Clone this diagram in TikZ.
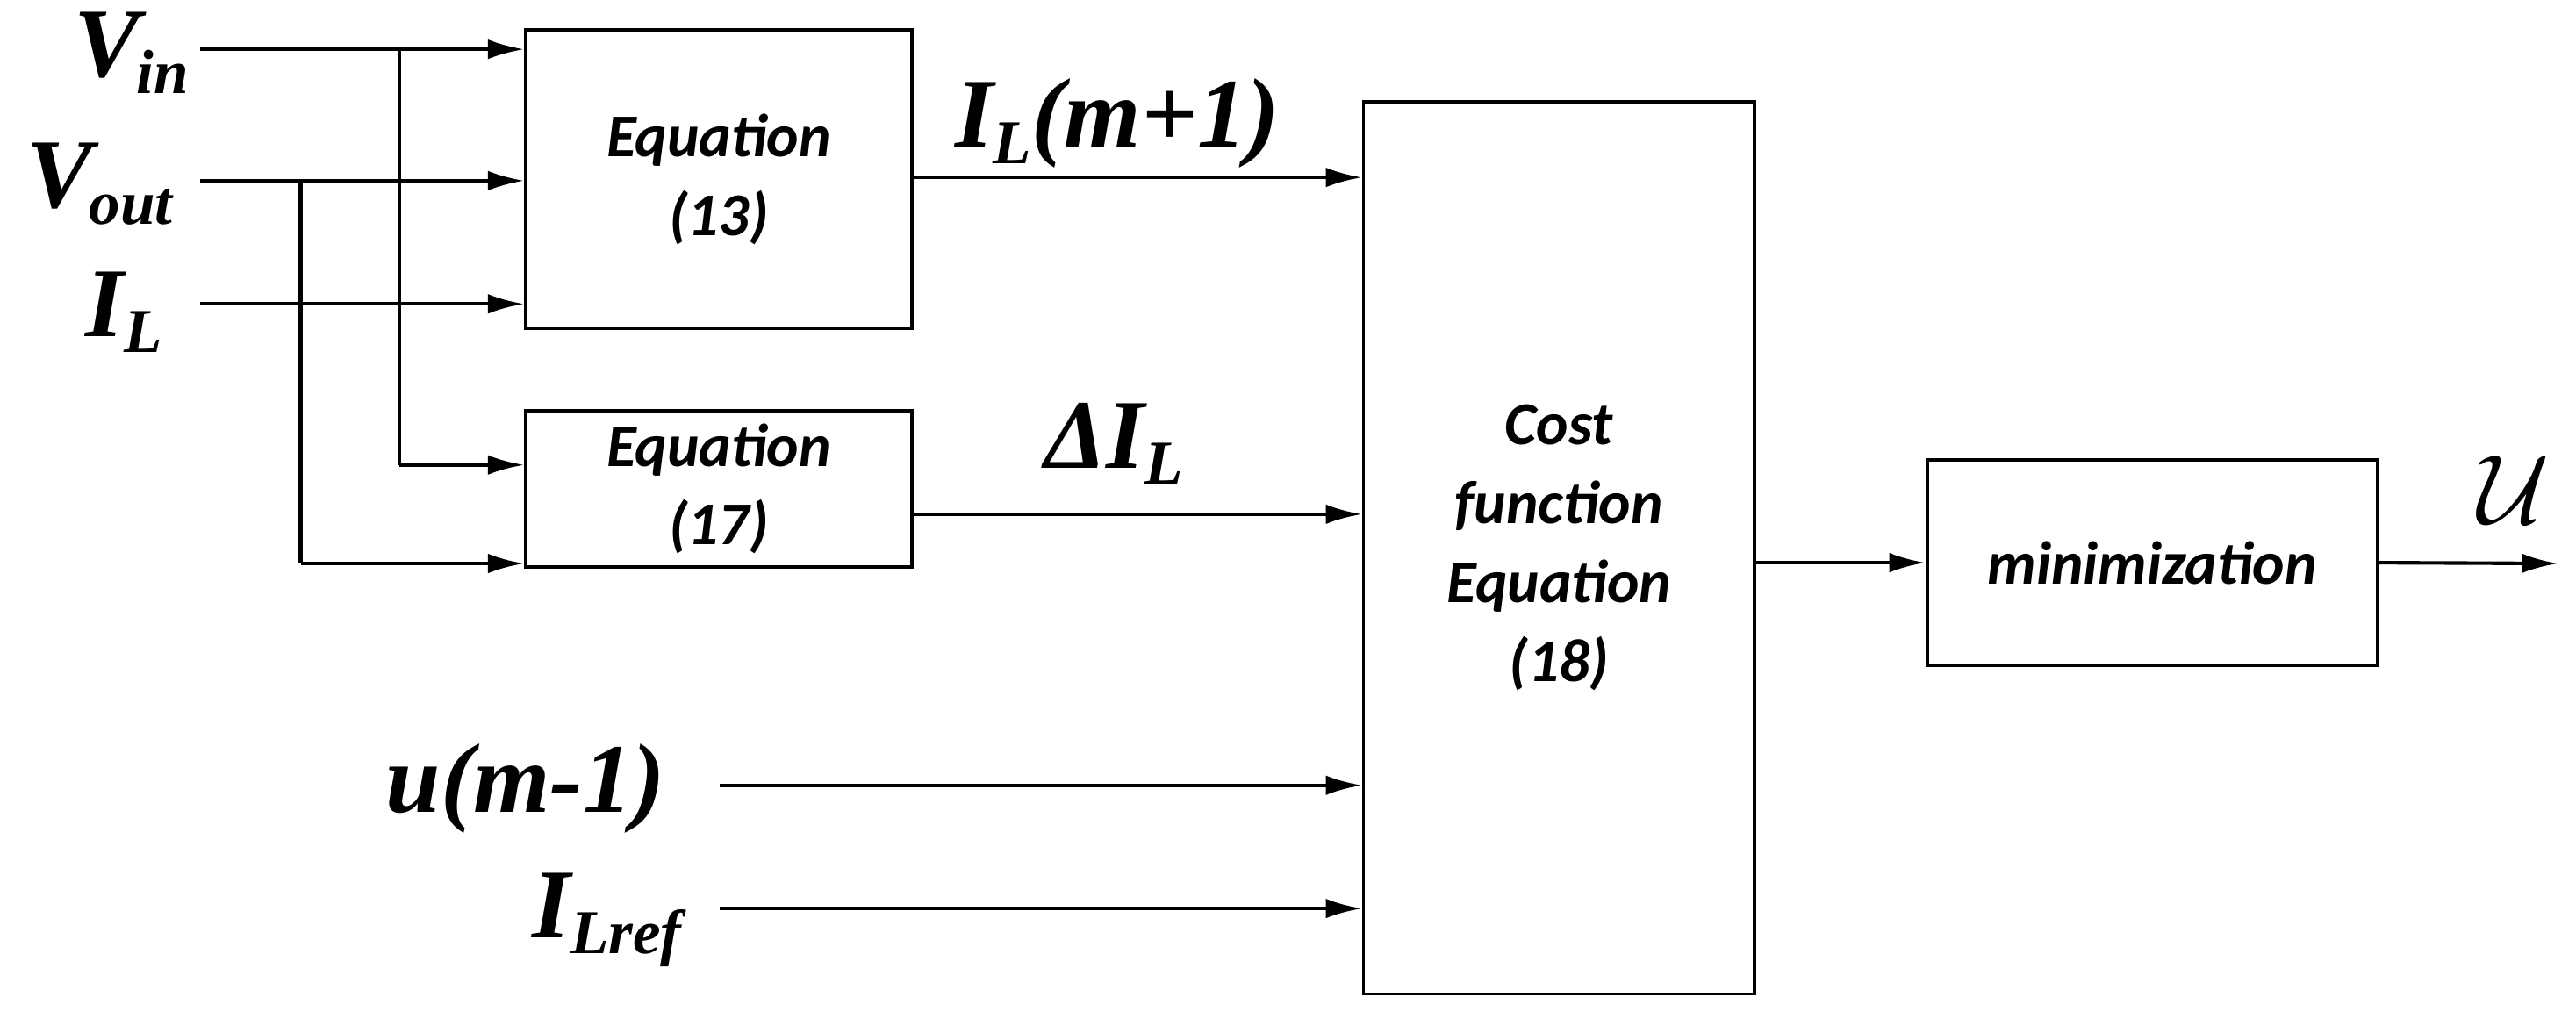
\documentclass[tikz,border=0pt]{standalone}
\usepackage{fontspec}
\setmainfont{Liberation Serif}
\newfontfamily\boxfont{Carlito}
\usetikzlibrary{arrows.meta}
\begin{document}
\begin{tikzpicture}[x=1pt,y=-1pt,
  line width=2.2pt,
  arr/.style={-{Latex[length=22pt,width=12pt]}},
  blk/.style={draw,line width=2pt,inner sep=0pt,font=\boxfont\bfseries\itshape\fontsize{37}{48}\selectfont,align=center},
  lab/.style={font=\bfseries\itshape\fontsize{60}{64}\selectfont,inner sep=0pt}]
\useasboundingbox (0,0) rectangle (1568,620);
\node[blk,minimum width=235pt,minimum height=182pt] (e13) at (437.5,109) {Equation\\(13)};
\node[blk,minimum width=235pt,minimum height=95pt] (e17) at (437.5,297.5) {Equation\\(17)};
\node[blk,minimum width=238pt,minimum height=543pt] (cf) at (949,333.5) {Cost\\function\\Equation\\(18)};
\node[blk,minimum width=274pt,minimum height=125pt] (mn) at (1310,342.5) {minimization};
\node[lab,anchor=east] (vin) at (116,32) {V\kern-2pt\raisebox{-10pt}{\fontsize{38}{40}\selectfont in}};
\node[lab,anchor=east] (vout) at (106,112) {V\kern-2pt\raisebox{-10pt}{\fontsize{38}{40}\selectfont out}};
\node[lab,anchor=east] (il) at (100,190) {I\raisebox{-10pt}{\fontsize{38}{40}\selectfont L}};
\coordinate (a1) at (122,30);
\coordinate (a2) at (122,110);
\coordinate (a3) at (122,185);
\draw[arr] (a1) -- (a1 -| e13.west);
\draw[arr] (a2) -- (a2 -| e13.west);
\draw[arr] (a3) -- (a3 -| e13.west);
\coordinate (j1) at (243,30);
\coordinate (j2) at (183,110);
\coordinate (k1) at (243,283);
\coordinate (k2) at (183,343);
\draw (j1) -- (k1);
\draw (j2) -- (k2);
\draw[arr] (k1) -- (k1 -| e17.west);
\draw[arr] (k2) -- (k2 -| e17.west);
\coordinate (o1) at (555,108);
\coordinate (o2) at (555,313);
\draw[arr] (o1) -- (o1 -| cf.west);
\draw[arr] (o2) -- (o2 -| cf.west);
\node[lab] (lil) at (680,75) {I\raisebox{-10pt}{\fontsize{38}{40}\selectfont L}(m+1)};
\node[lab] (ldi) at (678,270) {ΔI\raisebox{-10pt}{\fontsize{38}{40}\selectfont L}};
\node[lab,anchor=east] (um) at (406,480) {u(m-1)};
\node[lab,anchor=east] (ilr) at (416,560) {I\raisebox{-10pt}{\fontsize{38}{40}\selectfont Lref}};
\coordinate (b1) at (438,478);
\coordinate (b2) at (438,553);
\draw[arr] (b1) -- (b1 -| cf.west);
\draw[arr] (b2) -- (b2 -| cf.west);
\draw[arr] (cf.east |- mn.west) -- (mn.west);
\coordinate (uend) at (1557,343);
\draw[arr] (mn.east) -- (uend);
\node[inner sep=0pt] (lu) at (1530,298) {\scalebox{6}{$\mathcal{U}$}};
\end{tikzpicture}
\end{document}
